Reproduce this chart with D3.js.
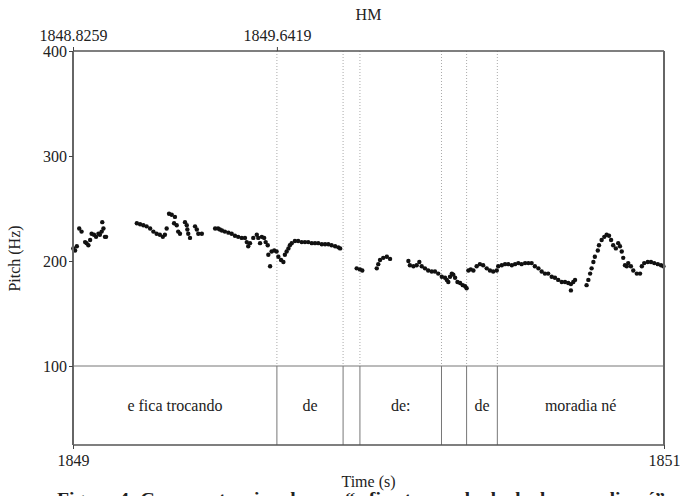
<!DOCTYPE html>
<html><head><meta charset="utf-8">
<script src="https://cdn.jsdelivr.net/npm/d3@7"></script>
<style>
html,body{margin:0;padding:0;background:#fff;overflow:hidden}
svg{display:block}
svg text{font-family:"Liberation Serif","Times New Roman",serif !important}
</style></head>
<body><svg id="c" width="680" height="496"></svg>
<script>
// ---- data ----
const title = "HM";
const xDomain = [1849, 1851];
const yDomain = [100, 400];
const yTicks = [100, 200, 300, 400];
const bottomTicks = [1849, 1851];
const bottomTickLabels = ["1849", "1851"];
const topTicks = [1849, 1849.690];
const topTickLabels = ["1848.8259", "1849.6419"];
const boundaries = [1849.690, 1849.914, 1849.971, 1850.247, 1850.332, 1850.436];
const tierLabels = ["e fica trocando", "de", "", "de:", "", "de", "moradia né"];
const pitch = [
  [1849.001,212],[1849.007,210],[1849.013,214],[1849.021,231],[1849.029,228],[1849.041,218],[1849.046,217],
  [1849.052,215],[1849.058,220],[1849.063,226],[1849.071,225],[1849.078,223],[1849.086,226],[1849.091,225],
  [1849.097,228],[1849.099,237],[1849.103,231],[1849.108,223],[1849.112,223],
  [1849.216,236],[1849.227,235],[1849.238,234],[1849.249,233],[1849.261,231],[1849.272,228],[1849.283,226],
  [1849.294,225],[1849.304,223],[1849.311,225],[1849.317,231],[1849.325,245],[1849.334,244],[1849.345,242],
  [1849.342,236],[1849.351,234],[1849.356,228],[1849.362,226],[1849.379,237],[1849.385,234],[1849.387,230],
  [1849.390,226],[1849.396,222],[1849.413,233],[1849.419,230],[1849.424,226],[1849.436,226],
  [1849.481,231],[1849.491,231],[1849.497,230],[1849.504,229],[1849.514,228],[1849.526,227],[1849.537,226],
  [1849.548,224],[1849.559,223],[1849.571,222],[1849.582,222],[1849.588,218],[1849.593,214],[1849.599,217],
  [1849.610,222],[1849.622,225],[1849.627,222],[1849.633,217],[1849.639,223],[1849.647,222],[1849.652,218],
  [1849.659,215],[1849.661,206],[1849.667,195],[1849.672,209],[1849.681,210],[1849.689,209],[1849.695,204],
  [1849.704,201],[1849.712,199],[1849.717,206],[1849.723,209],[1849.729,212],[1849.734,215],[1849.740,217],
  [1849.751,219],[1849.762,219],[1849.774,218],[1849.785,218],[1849.796,218],[1849.808,217],[1849.819,217],
  [1849.830,217],[1849.842,216],[1849.853,216],[1849.864,216],[1849.875,215],[1849.887,214],[1849.898,213],
  [1849.904,212],
  [1849.960,193],[1849.971,192],[1849.979,191],
  [1850.028,193],[1850.033,197],[1850.039,201],[1850.050,203],[1850.062,204],[1850.073,202],
  [1850.135,200],[1850.140,196],[1850.152,195],[1850.163,196],[1850.172,199],[1850.180,195],[1850.191,193],
  [1850.202,191],[1850.214,190],[1850.225,190],[1850.236,188],[1850.248,185],[1850.259,184],[1850.265,182],
  [1850.270,180],[1850.276,185],[1850.282,188],[1850.287,187],[1850.293,184],[1850.301,180],[1850.310,179],
  [1850.319,177],[1850.327,176],[1850.332,174],
  [1850.338,191],[1850.346,192],[1850.355,191],[1850.366,195],[1850.377,197],[1850.388,196],[1850.400,193],
  [1850.411,191],[1850.422,190],[1850.434,191],[1850.439,195],[1850.451,196],[1850.462,197],[1850.473,197],
  [1850.485,196],[1850.496,197],[1850.507,198],[1850.518,197],[1850.530,198],[1850.541,198],[1850.552,198],
  [1850.563,195],[1850.575,193],[1850.586,190],[1850.597,188],[1850.608,188],[1850.620,185],[1850.631,184],
  [1850.642,182],[1850.654,180],[1850.665,180],[1850.676,179],[1850.685,178],[1850.693,180],[1850.699,182],
  [1850.685,172],
  [1850.738,177],[1850.744,182],[1850.750,188],[1850.755,193],[1850.761,199],[1850.766,204],[1850.776,210],
  [1850.780,215],[1850.789,220],[1850.798,223],[1850.806,225],[1850.814,224],[1850.821,220],[1850.828,215],
  [1850.837,212],[1850.845,217],[1850.851,214],[1850.857,209],[1850.862,203],[1850.868,196],[1850.874,195],
  [1850.879,198],[1850.888,195],[1850.896,191],[1850.908,188],[1850.919,188],[1850.925,195],[1850.933,198],
  [1850.945,199],[1850.956,199],[1850.967,198],[1850.979,197],[1850.990,196],[1850.998,195]
];
const xTitle = "Time (s)";
const yTitle = "Pitch (Hz)";
const caption = "Figura 4: Curva entoacional para “e fica trocando de de de moradia né”";

// ---- layout ----
const L = 73, R = 664, T = 51, Y100 = 366, B = 445;
const x = d3.scaleLinear().domain(xDomain).range([L, R]);
const y = d3.scaleLinear().domain(yDomain).range([Y100, T]);
const svg = d3.select("#c");
const fs = 16;

// dotted boundary lines in pitch area
svg.append("g").selectAll("line").data(boundaries).join("line")
  .attr("x1", d => x(d)).attr("x2", d => x(d)).attr("y1", T).attr("y2", Y100)
  .attr("stroke", "#aaa").attr("stroke-width", 1).attr("stroke-dasharray", "1,2");

// tier boundaries
svg.append("g").selectAll("line").data(boundaries).join("line")
  .attr("x1", d => x(d)).attr("x2", d => x(d)).attr("y1", Y100).attr("y2", B)
  .attr("stroke", "#777").attr("stroke-width", 1);

// tier labels
const edges = [xDomain[0], ...boundaries, xDomain[1]];
svg.append("g").selectAll("text").data(tierLabels).join("text")
  .attr("x", (d, i) => (x(edges[i]) + x(edges[i + 1])) / 2)
  .attr("y", (Y100 + B) / 2 + 5)
  .attr("text-anchor", "middle").attr("font-size", fs).attr("fill", "#222")
  .text(d => d);

// pitch points
svg.append("g").selectAll("circle").data(pitch).join("circle")
  .attr("cx", d => x(d[0])).attr("cy", d => y(d[1])).attr("r", 2.2).attr("fill", "#111");

// frame
const frame = svg.append("g").attr("fill", "none");
frame.append("line").attr("x1", L).attr("x2", R).attr("y1", T).attr("y2", T).attr("stroke", "#555").attr("stroke-width", 1.5);
frame.append("line").attr("x1", L).attr("x2", R).attr("y1", Y100).attr("y2", Y100).attr("stroke", "#777").attr("stroke-width", 1);
frame.append("line").attr("x1", L).attr("x2", R).attr("y1", B).attr("y2", B).attr("stroke", "#555").attr("stroke-width", 1.5);
frame.append("line").attr("x1", L).attr("x2", L).attr("y1", T).attr("y2", B).attr("stroke", "#666").attr("stroke-width", 2);
frame.append("line").attr("x1", R).attr("x2", R).attr("y1", T).attr("y2", B).attr("stroke", "#666").attr("stroke-width", 2);

// y axis
const yAxis = d3.axisLeft(y).tickValues(yTicks).tickSize(4).tickPadding(2).tickFormat(d3.format("d"));
const gy = svg.append("g").attr("transform", `translate(${L},0)`).call(yAxis);
gy.attr("font-family", null);
gy.select(".domain").remove();
gy.selectAll("line").attr("stroke", "#444");
gy.selectAll("text").attr("font-size", fs).attr("fill", "#222").attr("dy", "0.35em");

// bottom axis
const xb = d3.axisBottom(x).tickValues(bottomTicks).tickSize(4).tickPadding(6)
  .tickFormat((d, i) => bottomTickLabels[i]);
const gb = svg.append("g").attr("transform", `translate(0,${B})`).call(xb);
gb.attr("font-family", null);
gb.select(".domain").remove();
gb.selectAll("line").attr("stroke", "#444");
gb.selectAll("text").attr("font-size", fs).attr("fill", "#222");

// top axis
const xt = d3.axisTop(x).tickValues(topTicks).tickSize(4).tickPadding(6)
  .tickFormat((d, i) => topTickLabels[i]);
const gt = svg.append("g").attr("transform", `translate(0,${T})`).call(xt);
gt.attr("font-family", null);
gt.select(".domain").remove();
gt.selectAll("line").attr("stroke", "#444");
gt.selectAll("text").attr("font-size", fs).attr("fill", "#222");

// titles
svg.append("text").attr("x", (L + R) / 2).attr("y", 20).attr("text-anchor", "middle")
  .attr("font-size", fs).attr("fill", "#222").text(title);
svg.append("text").attr("x", (L + R) / 2).attr("y", 487).attr("text-anchor", "middle")
  .attr("font-size", fs).attr("fill", "#222").text(xTitle);
svg.append("text").attr("transform", `translate(20,${(T + Y100) / 2 + 50}) rotate(-90)`)
  .attr("text-anchor", "middle").attr("font-size", fs).attr("fill", "#222").text(yTitle);
svg.append("text").attr("x", 57).attr("y", 504)
  .attr("textLength", 608).attr("lengthAdjust", "spacingAndGlyphs")
  .attr("font-size", 17).attr("font-weight", "bold").attr("fill", "#222").text(caption);
</script></body></html>
